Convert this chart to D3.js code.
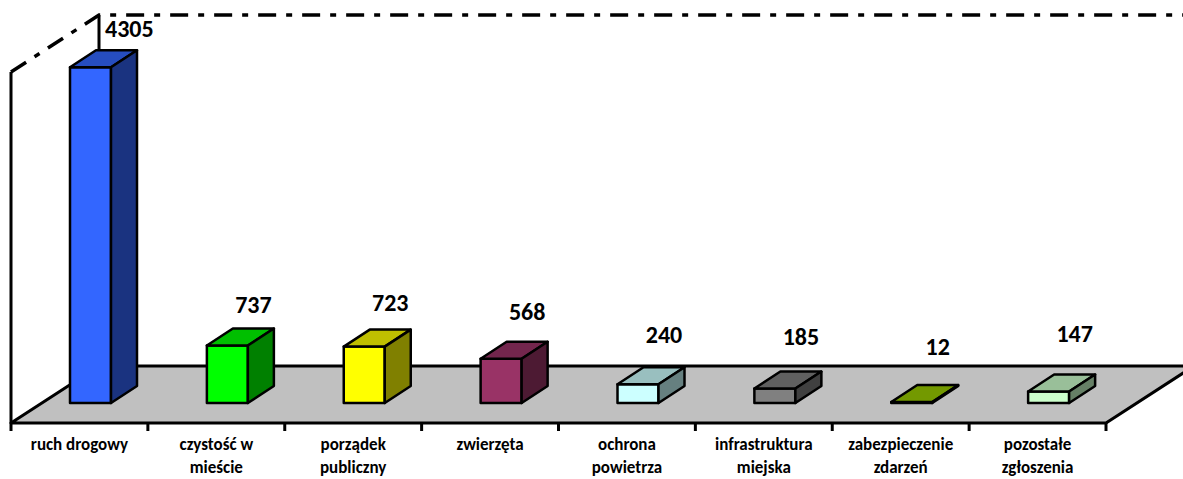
<!DOCTYPE html>
<html>
<head>
<meta charset="utf-8">
<script src="https://cdn.jsdelivr.net/npm/d3@7"></script>
<style>
  html, body { margin: 0; padding: 0; background: #fff; }
  svg { display: block; }
  text { font-family: Carlito, Calibri, Lato, "Open Sans", sans-serif; font-weight: bold; fill: #000; }
</style>
</head>
<body>
<div id="chart"></div>
<script>
// categories (line breaks as in the picture)
const categories = [
  'ruch drogowy',
  'czystość w\nmieście',
  'porządek\npubliczny',
  'zwierzęta',
  'ochrona\npowietrza',
  'infrastruktura\nmiejska',
  'zabezpieczenie\nzdarzeń',
  'pozostałe\nzgłoszenia'
];
const values = [4305, 737, 723, 568, 240, 185, 12, 147];
const barColors = ['#3366FF', '#00FF00', '#FFFF00', '#993366', '#CCFFFF', '#808080', '#99CC00', '#CCFFCC'];
const axisMax = 4500;

const width = 1183, height = 479;

// floor / wall geometry
const left = 11, right = 1106, frontY = 423;
const depth = { dx: 88, dy: -57 };
const wallH = 351;

const svg = d3.select('#chart').append('svg')
  .attr('width', width)
  .attr('height', height);

const x = d3.scaleBand().domain(categories).range([left, right]);
const h = d3.scaleLinear().domain([0, axisMax]).range([0, wallH]);

// shade a colour for top / side faces
function shade(c, k) {
  const rgb = d3.rgb(c);
  return d3.rgb(rgb.r * k, rgb.g * k, rgb.b * k).formatHex();
}

// floor
const floorPts = [
  [left, frontY],
  [right, frontY],
  [right + depth.dx, frontY + depth.dy],
  [left + depth.dx, frontY + depth.dy]
];
svg.append('polygon')
  .attr('points', floorPts.map(p => p.join(',')).join(' '))
  .attr('fill', '#C0C0C0')
  .attr('stroke', '#000')
  .attr('stroke-width', 3)
  .attr('stroke-linejoin', 'round');

// walls: solid verticals
svg.append('line')
  .attr('x1', left).attr('y1', frontY)
  .attr('x2', left).attr('y2', frontY - wallH)
  .attr('stroke', '#000').attr('stroke-width', 3);
svg.append('line')
  .attr('x1', left + depth.dx).attr('y1', frontY + depth.dy)
  .attr('x2', left + depth.dx).attr('y2', frontY + depth.dy - wallH)
  .attr('stroke', '#000').attr('stroke-width', 3);

// dashed top edges of the walls
svg.append('polyline')
  .attr('points', [
    [left, frontY - wallH],
    [left + depth.dx, frontY + depth.dy - wallH],
    [width + 20, frontY + depth.dy - wallH]
  ].map(p => p.join(',')).join(' '))
  .attr('fill', 'none')
  .attr('stroke', '#000')
  .attr('stroke-width', 3.5)
  .attr('stroke-dasharray', '18,10,6,10');

// ticks on the front edge
svg.selectAll('.tick')
  .data(d3.range(categories.length + 1))
  .join('line')
  .attr('class', 'tick')
  .attr('x1', i => left + i * x.bandwidth())
  .attr('x2', i => left + i * x.bandwidth())
  .attr('y1', frontY)
  .attr('y2', frontY + 8)
  .attr('stroke', '#000')
  .attr('stroke-width', 3);

// bars
const barOff = 59, barW = 41, barBase = 403;
const bd = { dx: 26, dy: -17 };

const bars = svg.selectAll('.bar')
  .data(values)
  .join('g')
  .attr('class', 'bar');

bars.each(function (v, i) {
  const g = d3.select(this);
  const bx = x(categories[i]) + barOff;
  const top = barBase - h(v);
  const col = barColors[i];
  const poly = pts => pts.map(p => p.join(',')).join(' ');

  g.append('polygon')
    .attr('points', poly([[bx, barBase], [bx + barW, barBase], [bx + barW, top], [bx, top]]))
    .attr('fill', col);
  g.append('polygon')
    .attr('points', poly([[bx, top], [bx + barW, top], [bx + barW + bd.dx, top + bd.dy], [bx + bd.dx, top + bd.dy]]))
    .attr('fill', shade(col, 0.75));
  g.append('polygon')
    .attr('points', poly([[bx + barW, barBase], [bx + barW, top], [bx + barW + bd.dx, top + bd.dy], [bx + barW + bd.dx, barBase + bd.dy]]))
    .attr('fill', shade(col, 0.5));
  g.selectAll('polygon')
    .attr('stroke', '#000')
    .attr('stroke-width', 2.5)
    .attr('stroke-linejoin', 'round');

  // value label
  const cx = bx + barW / 2 + bd.dx;
  const label = g.append('text')
    .attr('x', cx)
    .attr('y', top + bd.dy - (13 + 2.8 * i))
    .attr('text-anchor', 'middle')
    .style('font-size', '24px')
    .text(v);
  const tw = label.node().getComputedTextLength();
  const minLeft = left + depth.dx + 6;
  if (cx - tw / 2 < minLeft) label.attr('x', minLeft + tw / 2);
});

// category labels
svg.selectAll('.cat')
  .data(categories)
  .join('text')
  .attr('class', 'cat')
  .attr('text-anchor', 'middle')
  .style('font-size', '17px')
  .each(function (c) {
    const t = d3.select(this);
    c.split('\n').forEach((line, j) => {
      t.append('tspan')
        .attr('x', x(c) + x.bandwidth() / 2)
        .attr('y', 450 + j * 23)
        .text(line);
    });
  });
</script>
</body>
</html>
